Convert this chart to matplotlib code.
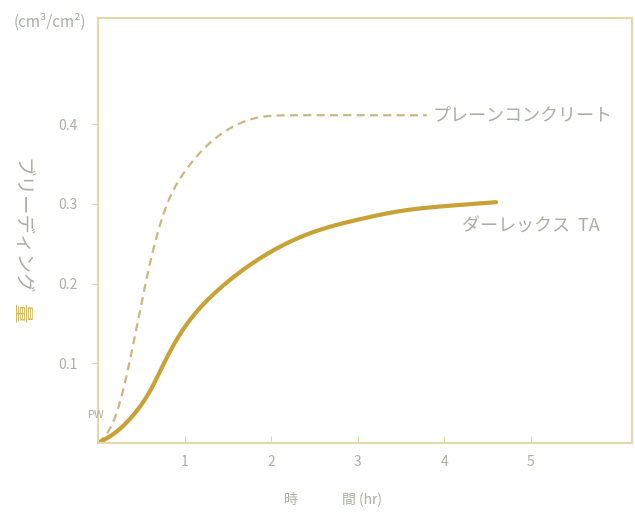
import matplotlib
matplotlib.use("Agg")
import matplotlib.pyplot as plt
import numpy as np

plt.rcParams['font.family'] = ['Noto Sans CJK JP', 'DejaVu Sans']

# Data
plain_t = [0.0, 0.2, 0.4, 0.6, 0.8, 1.0, 1.25, 1.5, 1.8, 2.2, 3.0, 3.8]
plain_v = [0.0, 0.033, 0.12, 0.225, 0.300, 0.340, 0.372, 0.393, 0.407, 0.411, 0.411, 0.411]
darex_t = [0.0, 0.2, 0.4, 0.6, 0.8, 1.0, 1.3, 1.6, 2.0, 2.5, 3.0, 3.5, 4.0, 4.6]
darex_v = [0.0, 0.013, 0.034, 0.065, 0.108, 0.145, 0.183, 0.211, 0.240, 0.265, 0.280, 0.291, 0.297, 0.302]
x_ticks = [1, 2, 3, 4, 5]
y_ticks = [0.1, 0.2, 0.3, 0.4]
y_ticklabels = ['0.1', '0.2', '0.3', '0.4']

text_c = '#aab0a0'
axis_c = '#e2d9a6'

fig = plt.figure(figsize=(6.35, 5.18), dpi=100)
ax = fig.add_axes([98/635, 75/518, 534/635, 425/518])
ax.set_xlim(0, 6.17)
ax.set_ylim(0, 0.533)


def spline(t, v, n=300):
    """Natural cubic spline through the read points (for a smooth drawn line)."""
    t = np.asarray(t, float); v = np.asarray(v, float)
    k = len(t); h = np.diff(t)
    A = np.zeros((k, k)); b = np.zeros(k)
    A[0, 0] = 1; A[-1, -1] = 1
    for i in range(1, k - 1):
        A[i, i-1] = h[i-1]; A[i, i] = 2*(h[i-1] + h[i]); A[i, i+1] = h[i]
        b[i] = 6*((v[i+1] - v[i])/h[i] - (v[i] - v[i-1])/h[i-1])
    M = np.linalg.solve(A, b)
    tt = np.linspace(t[0], t[-1], n)
    idx = np.clip(np.searchsorted(t, tt) - 1, 0, k - 2)
    hi = h[idx]; a = t[idx+1] - tt; c = tt - t[idx]
    vv = (M[idx]*a**3 + M[idx+1]*c**3)/(6*hi) + (v[idx]/hi - M[idx]*hi/6)*a + (v[idx+1]/hi - M[idx+1]*hi/6)*c
    return tt, vv


tp, vp = spline(plain_t, plain_v)
td, vd = spline(darex_t, darex_v)
ax.plot(tp, vp, color='#cdb780', lw=1.6, ls=(0, (3.6, 2.4)), solid_capstyle='butt')
ax.plot(td, vd, color='#c9a235', lw=3.0, solid_capstyle='round')

for s in ax.spines.values():
    s.set_color(axis_c)
    s.set_linewidth(1.5)

ax.set_xticks(x_ticks)
ax.set_xticklabels([str(x) for x in x_ticks])
ax.set_yticks(y_ticks)
ax.set_yticklabels(y_ticklabels)
ax.tick_params(axis='x', direction='in', length=5, color=axis_c, labelcolor=text_c, labelsize=10, pad=9)
ax.tick_params(axis='y', direction='out', length=5, color=axis_c, labelcolor=text_c, labelsize=10, pad=10)

ax.text(3.87, 0.411, 'プレーンコンクリート', color=text_c, fontsize=13, va='center', ha='left')
ax.text(4.2, 0.272, 'ダーレックス  TA', color=text_c, fontsize=13, va='center', ha='left')
ax.text(-0.12, 0.035, 'PW', color=text_c, fontsize=8, va='center', ha='left', clip_on=False)

fig.text(50/635, 1 - 22/518, '(cm³/cm²)', color=text_c, fontsize=11, ha='center', va='center')
fig.text(291/635, 1 - 500/518, '時', color=text_c, fontsize=10, ha='center', va='center')
fig.text(342/635, 1 - 500/518, '間 (hr)', color=text_c, fontsize=10, ha='left', va='center')
fig.text(21/635, 1 - 226/518, 'ブリーディング', color=text_c, fontsize=14, rotation=270,
         ha='center', va='center')
fig.text(21/635, 1 - 313/518, '量', color='#d6b860', fontsize=14, rotation=270,
         ha='center', va='center')

fig.savefig('out.png', dpi=100, facecolor='white')
